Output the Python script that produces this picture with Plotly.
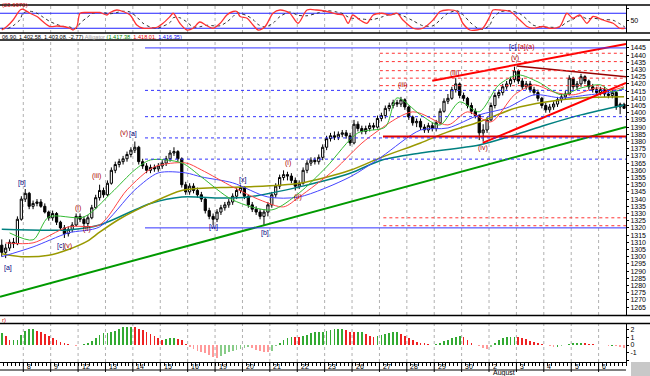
import plotly.graph_objects as go

# ---------------- data ----------------
day_labels = ["8","9","12","13","14","15","16","19","20","21","22","23","26","27","28","29","30","2","3","4","5","6"]

open_ = [1308,1303,1306,1310,1309,1326,
 1340,1344,1335,1337,1338,1335,1331,
 1327,1330,1324,1320,1316,1319,1322,
 1328,1326,1323,1327,1334,1341,1346,
 1343,1351,1360,1364,1366,1368,1371,
 1374,1376,1366,1363,1360,1362,1361,
 1363,1365,1368,1372,1373,1368,1350,
 1345,1349,1346,1343,1340,1332,1328,
 1326,1331,1334,1336,1338,1342,1346,
 1348,1342,1336,1333,1331,1328,1331,
 1336,1343,1349,1355,1357,1356,1353,
 1349,1351,1360,1365,1367,1366,1369,
 1376,1382,1384,1383,1385,1386,1384,
 1379,1392,1389,1387,1389,1391,1390,
 1396,1398,1403,1405,1407,1406,1409,
 1404,1397,1393,1394,1390,1388,1391,
 1389,1393,1401,1408,1410,1416,1420,
 1412,1410,1405,1401,1398,1386,1388,
 1395,1405,1412,1414,1418,1420,1423,
 1429,1422,1418,1420,1416,1414,1410,
 1405,1402,1404,1406,1409,1411,1413,
 1424,1418,1420,1425,1422,1418,1416,
 1414,1416,1413,1412,1414,1404,1405.85]
close = [1303,1306,1310,1309,1326,1340,
 1344,1335,1337,1338,1335,1331,1327,
 1330,1324,1320,1316,1319,1322,1328,
 1326,1323,1327,1334,1341,1346,1343,
 1351,1360,1364,1366,1368,1371,1374,
 1376,1366,1363,1360,1362,1361,1363,
 1365,1368,1372,1373,1368,1350,1345,
 1349,1346,1343,1340,1332,1328,1326,
 1331,1334,1336,1338,1342,1346,1348,
 1342,1336,1333,1331,1328,1331,1336,
 1343,1349,1355,1357,1356,1353,1349,
 1351,1360,1365,1367,1366,1369,1376,
 1382,1384,1383,1385,1386,1384,1379,
 1392,1389,1387,1389,1391,1390,1396,
 1398,1403,1405,1407,1406,1409,1404,
 1397,1393,1394,1390,1388,1391,1389,
 1393,1401,1408,1410,1416,1420,1412,
 1410,1405,1401,1398,1386,1388,1395,
 1405,1412,1414,1418,1420,1423,1429,
 1422,1418,1420,1416,1414,1410,1405,
 1402,1404,1406,1409,1411,1413,1424,
 1418,1420,1425,1422,1418,1416,1414,
 1416,1413,1412,1414,1404,1405.85,1403.08]
high = [1312,1309,1312,1313,1328,1342,
 1347,1345,1339,1340,1340,1337,1332,
 1332,1331,1325,1322,1321,1324,1330,
 1330,1328,1329,1336,1343,1350,1348,
 1353,1362,1366,1368,1370,1373,1376,
 1380,1377,1368,1365,1364,1364,1365,
 1367,1370,1374,1376,1374,1369,1352,
 1351,1351,1348,1345,1341,1334,1330,
 1333,1336,1338,1340,1344,1348,1350,
 1349,1343,1338,1335,1333,1333,1338,
 1345,1351,1357,1360,1359,1358,1355,
 1353,1362,1367,1369,1369,1371,1378,
 1384,1386,1387,1387,1388,1388,1386,
 1395,1394,1391,1391,1393,1393,1398,
 1400,1405,1407,1409,1409,1411,1410,
 1405,1398,1396,1396,1392,1393,1393,
 1395,1403,1410,1413,1418,1424,1421,
 1414,1411,1407,1403,1399,1392,1397,
 1407,1414,1416,1420,1422,1425,1432,
 1430,1424,1422,1422,1418,1416,1411,
 1407,1406,1408,1411,1413,1415,1426,
 1425,1422,1427,1426,1423,1420,1418,
 1418,1418,1415,1416,1415,1407,1406.90]
low = [1300,1299,1304,1306,1308,1325,
 1338,1333,1333,1335,1334,1330,1325,
 1325,1322,1318,1313,1314,1317,1321,
 1324,1320,1321,1326,1333,1339,1341,
 1342,1350,1358,1362,1364,1366,1369,
 1372,1364,1361,1358,1358,1359,1359,
 1361,1363,1366,1370,1366,1348,1343,
 1343,1344,1341,1338,1330,1326,1322,
 1324,1329,1332,1334,1336,1340,1344,
 1340,1334,1331,1329,1326,1322,1328,
 1334,1341,1347,1353,1353,1351,1346,
 1347,1350,1358,1363,1364,1364,1367,
 1374,1380,1381,1381,1383,1382,1377,
 1378,1387,1385,1385,1387,1388,1389,
 1394,1396,1401,1403,1404,1404,1402,
 1395,1391,1390,1388,1386,1386,1387,
 1387,1392,1400,1406,1409,1414,1410,
 1408,1403,1399,1396,1381,1380,1386,
 1394,1403,1410,1412,1416,1418,1421,
 1420,1416,1416,1414,1412,1408,1403,
 1400,1400,1402,1404,1407,1409,1412,
 1416,1416,1418,1420,1416,1414,1412,
 1412,1411,1410,1410,1402,1399,1402.58]

# moving-average style lines, read at sample bars
teal_bar = [0,17,25,38,46,56,63,76,89,97,107,122,131,139,148,159]
teal_val = [1319,1318.6,1322,1337,1341.5,1340.8,1341.5,1348.5,1358,1367,1372,1377.6,1384.6,1391.5,1398.5,1405.4]
olive_bar = [0,5,12,17,22,25,30,38,46,56,63,76,89,97,107,114,122,131,139,148,159]
olive_val = [1302,1300,1301,1305,1311,1317,1326,1337,1346,1348,1348.5,1351,1360,1369,1379,1386.7,1393.6,1403,1407.5,1410.3,1411]
blue_bar = [0,8,17,25,34,40,47,51,59,68,76,89,97,107,114,122,129,136,143,150,156,159]
blue_val = [1300,1306.8,1316.5,1320.7,1346.4,1358.2,1358.2,1355.4,1351.3,1341.5,1341.5,1355.4,1369.3,1388,1389.4,1398.5,1403.3,1412.4,1410.3,1412.4,1414.4,1416.35]
red_bar = [1,8,17,25,32,39,47,51,59,66,72,76,85,93,105,114,119,125,131,136,141,146,152,156,159]
red_val = [1309.6,1309.6,1320.7,1322.1,1346.4,1362.4,1365.1,1360.3,1348.5,1339.4,1334.6,1341.5,1360.3,1381.1,1400.6,1391.5,1400.6,1393.6,1412.4,1419.3,1414.4,1412.4,1417.2,1415.8,1418.01]
green_bar = [2,8,12,21,28,34,38,46,51,59,69,76,83,91,98,101,107,112,117,122,127,132,137,143,148,153,156,159]
green_val = [1316.5,1311.7,1327.6,1327.6,1344.3,1360.3,1367.2,1365.1,1355.4,1339.4,1332.5,1344.3,1362.4,1386,1390.1,1410.3,1398.5,1391.5,1407.5,1400.6,1419.3,1426.2,1421.4,1412.4,1417.2,1419.3,1414.4,1417.38]

# stochastic (%K red, %D dotted)
stoch_bar = [0,1.3,2.9,4.7,5.4,7.2,9,10.5,12.3,14.1,15.6,17.4,18.2,19.2,20,21.8,23.3,25.1,26.9,27.7,29.4,31,32.8,34.5,36.1,37.9,39.7,41.2,43,43.8,45.5,47.3,48.9,50.6,52.4,54,55.8,57.5,59.1,60.1,60.9,62.7,64.2,65.5,67.3,69.3,71.1,73.6,75.7,78,80.5,83.1,85.6,87.2,88.5,89.7,91.5,93.3,94.9,97.1,99.2,101,102.5,105.1,107.6,110.2,112,113.8,116.3,117.8,119.6,121.4,122.9,124.7,125.5,127.3,129.9,132.4,134.2,135.7,138.3,140.1,142.6,144.4,145.9,147.7,149.5,151.1,153.6,156.2,157.9,159.2]
stoch_k = [13,27,53,93,96,80,67,47,27,29,27,20,13,27,80,83,83,83,73,83,93,87,73,33,20,20,24,40,67,80,40,13,20,45,30,20,40,73,87,87,67,60,33,13,27,80,93,80,40,93,93,87,77,73,40,73,53,40,73,80,73,80,53,20,20,53,87,93,87,40,13,13,20,67,93,93,87,53,27,20,27,20,27,80,60,73,40,67,53,40,20,20]
stoch_d = [20,18,30,55,80,88,80,65,47,35,28,25,20,20,40,63,80,83,80,78,83,88,85,65,40,25,20,28,43,62,62,45,25,26,32,30,30,45,67,82,80,70,55,35,25,40,67,85,72,70,80,90,85,78,65,60,58,55,55,65,75,77,70,50,30,30,53,78,90,75,45,22,15,33,60,85,90,78,55,33,25,24,25,45,55,70,58,60,55,52,38,25]

# oscillator histogram
osc = [1.52,1.17,0.65,0.65,0.70,1.35,1.87,2.04,2.04,1.87,1.65,1.39,1.22,0.87,0.61,0.39,0.26,0.17,0.04,-0.09,
 -0.05,0.13,0.30,0.57,0.91,1.26,1.52,1.52,1.65,1.87,2.13,2.30,2.39,2.39,2.30,2.09,1.91,1.65,1.39,1.13,
 0.87,0.70,0.74,0.87,0.87,0.83,0.61,0.13,-0.22,-0.57,-0.78,-0.91,-1.04,-1.26,-1.52,-1.74,-1.43,-1.22,-0.96,-0.78,
 -0.65,-0.57,-0.39,-0.22,-0.35,-0.61,-0.74,-0.91,-0.96,-0.74,-0.13,0.26,0.65,0.91,1.09,1.04,1.0,1.17,1.30,1.52,
 1.65,1.74,1.74,1.87,1.96,2.04,2.09,2.09,1.91,1.74,1.65,1.65,1.65,1.43,1.22,1.09,1.17,1.35,1.48,1.61,
 1.70,1.74,1.48,1.22,0.96,0.70,0.43,0.30,0.22,0.17,0.04,0.09,0.30,0.48,0.70,0.91,1.04,1.17,1.0,0.61,
 0.22,0.04,-0.17,-0.43,-0.57,-0.22,0.26,0.65,0.91,1.04,1.09,1.09,1.04,0.91,0.78,0.57,0.39,0.26,0.17,0.04,
 -0.13,-0.22,-0.22,-0.09,0.0,0.13,0.30,0.30,0.30,0.22,0.17,0.09,0.04,-0.04,-0.04,-0.09,-0.09,-0.13,-0.22,-0.43]

# trend lines: (bar0, price0, bar1, price1)
green_trend = (-0.45, 1272.1, 159.5, 1390.1)
red_upper = (110, 1422.2, 159.5, 1447.8)
maroon_line = (131.6, 1432.5, 159.5, 1424.9)
red_lower = (122.9, 1379.0, 159.5, 1420.7)
red_level = 1383.5
fib_blue = [1445, 1415.5, 1397.25, 1382.5, 1367.75, 1320]
red_dotted = [1441.3, 1435.5, 1429.2, 1424.0, 1418.8, 1327.0, 1321.5]

wave_labels = [
 ("[a]", "#000080", 1.6, 1292.2), ("[b]", "#000080", 5.2, 1351.3), ("[c]", "#000080", 14.9, 1307.5),
 ("(v)", "#aa0000", 16.9, 1307.5), ("(i)", "#aa0000", 19.5, 1333.9), ("(ii)", "#aa0000", 21.8, 1319.3),
 ("(iii)", "#aa0000", 24.3, 1356.1), ("(v)", "#aa0000", 31.3, 1386.0), ("[a]", "#000080", 33.6, 1385.5),
 ("[w]", "#000080", 54.0, 1320.7), ("[x]", "#000080", 61.4, 1353.3), ("[b]", "#000080", 67.3, 1316.5),
 ("(i)", "#aa0000", 73.1, 1365.1), ("(ii)", "#aa0000", 75.7, 1341.5), ("(iii)", "#aa0000", 102.5, 1419.3),
 ("(iii)", "#aa0000", 115.8, 1427.6), ("(iv)", "#aa0000", 122.9, 1375.5), ("(v)", "#aa0000", 131.1, 1438.0),
 ("[c]", "#000080", 130.4, 1445.5), ("[a]", "#cc0000", 133.0, 1445.5), ("(a)", "#cc0000", 135.2, 1445.5),
]

# ---------------- figure ----------------
H_PLOT = 362.0
def py(px):
    return (H_PLOT - px) / H_PLOT

bars = list(range(len(close)))
FONT = "Liberation Sans"
fig = go.Figure()

fig.add_trace(go.Candlestick(x=bars, open=open_, high=high, low=low, close=close,
    increasing=dict(line=dict(color="black", width=1), fillcolor="white"),
    decreasing=dict(line=dict(color="black", width=1), fillcolor="black"),
    whiskerwidth=0, xaxis="x", yaxis="y", showlegend=False, hoverinfo="skip"))

def line_tr(xs, ys, color, width, dash="solid", yaxis="y", shape="spline"):
    fig.add_trace(go.Scatter(x=xs, y=ys, mode="lines", xaxis="x", yaxis=yaxis,
        line=dict(color=color, width=width, dash=dash, shape=shape, smoothing=0.8),
        showlegend=False, hoverinfo="skip"))

line_tr(teal_bar, teal_val, "#008080", 1.5)
line_tr(olive_bar, olive_val, "#999900", 1.5)
line_tr(blue_bar, blue_val, "#4444ff", 1)
line_tr(red_bar, red_val, "#ff4444", 1)
line_tr(green_bar, green_val, "#33bb33", 1)

for (x0, y0, x1, y1), col, w in [(green_trend, "#009900", 2), (red_upper, "#ff0000", 2),
                                 (maroon_line, "#990000", 1.5), (red_lower, "#ff0000", 2)]:
    line_tr([x0, x1], [y0, y1], col, w, shape="linear")

line_tr([97.4, 159.5], [red_level, red_level], "#dd0000", 2, shape="linear")
for i, lv in enumerate(fib_blue):
    solid = i in (0, len(fib_blue) - 1)
    line_tr([36.6, 159.5], [lv, lv], "#3333ff", 1, "solid" if solid else "dot", shape="linear")
for i, lv in enumerate(red_dotted):
    start = 96.6 if lv > 1400 else 97.5
    line_tr([start, 159.5], [lv, lv], "#ff3333", 1, "dot", shape="linear")

line_tr([-0.45, 160], [80, 80], "#2222ff", 1, yaxis="y2", shape="linear")
line_tr([-0.45, 160], [20, 20], "#2222ff", 1, yaxis="y2", shape="linear")
line_tr(stoch_bar, stoch_d, "#333333", 1, "dot", yaxis="y2")
line_tr(stoch_bar, stoch_k, "#ff3333", 1.3, yaxis="y2")

cols = []
for i, v in enumerate(osc):
    prev = osc[i - 1] if i > 0 else v
    up = v >= prev
    strong = abs(v) >= abs(prev)
    if up:
        cols.append("#33aa33" if strong else "#88cc88")
    else:
        cols.append("#ee2222" if not strong else "#ff9999")
fig.add_trace(go.Bar(x=bars, y=osc, marker=dict(color=cols, line=dict(width=0)), width=0.45,
    xaxis="x", yaxis="y3", showlegend=False, hoverinfo="skip"))

# ---------------- layout ----------------
shapes = []
day_bounds = [5.5 + 7 * k for k in range(len(day_labels))]
for b in day_bounds:
    for (p0, p1) in [(5, 33), (40, 315), (324, 362)]:
        shapes.append(dict(type="line", xref="x", yref="paper", x0=b, x1=b, y0=py(p1), y1=py(p0),
                           line=dict(color="#b0b0b0", width=1, dash="dot"), layer="below"))
    shapes.append(dict(type="line", xref="x", yref="paper", x0=b, x1=b, y0=py(372), y1=py(362),
                       line=dict(color="black", width=1)))
for p in [5, 33, 40, 315.5, 323.5]:
    shapes.append(dict(type="line", xref="paper", yref="paper", x0=0, x1=1.04, y0=py(p), y1=py(p),
                       line=dict(color="black", width=1.5)))
shapes.append(dict(type="line", xref="paper", yref="paper", x0=0, x1=1, y0=py(370), y1=py(370),
                   line=dict(color="black", width=1)))
shapes.append(dict(type="rect", xref="paper", yref="paper", x0=1.008, x1=1.04, y0=py(376), y1=py(362),
                   line=dict(width=0), fillcolor="#c8c8c8"))

ann = []
for lab, b in zip(day_labels, day_bounds):
    ann.append(dict(x=b + 0.4, y=py(366), xref="x", yref="paper", text=lab, showarrow=False,
                    xanchor="left", yanchor="middle", font=dict(size=7, color="black", family=FONT)))
ann.append(dict(x=day_bounds[17] + 0.4, y=py(373), xref="x", yref="paper", text="August", showarrow=False,
                xanchor="left", yanchor="middle", font=dict(size=7, color="black", family=FONT)))
for txt, col, b, p in wave_labels:
    ann.append(dict(x=b, y=p, xref="x", yref="y", text=txt, showarrow=False,
                    font=dict(size=7, color=col, family=FONT)))
ann.append(dict(x=0, y=py(0.5), xref="paper", yref="paper", xanchor="left", yanchor="top",
                text="(23.6970)", showarrow=False, font=dict(size=6, color="#cc0000", family=FONT)))
ann.append(dict(x=0, y=py(36.5), xref="paper", yref="paper", xanchor="left", yanchor="middle",
                text="06.90, 1,402.58, 1,403.08, -2.77) <span style='color:#999999'>Alligator</span> "
                     "<span style='color:#008800'>(1,417.38,</span> <span style='color:#ee0000'>1,418.01,</span> "
                     "<span style='color:#0000ee'>1,416.35)</span>",
                showarrow=False, font=dict(size=5.6, color="black", family=FONT)))
ann.append(dict(x=0, y=py(319.5), xref="paper", yref="paper", xanchor="left", yanchor="middle",
                text="r)", showarrow=False, font=dict(size=6, color="#cc0000", family=FONT)))

axis_common = dict(side="right", anchor="x", ticks="outside", ticklen=2, tickcolor="black",
                   showgrid=False, zeroline=False, showline=True, linecolor="black", linewidth=1,
                   tickfont=dict(size=7, family=FONT), ticklabeloverflow="allow")

fig.update_layout(
    width=650, height=376, margin=dict(l=0, r=24, t=0, b=14),
    paper_bgcolor="white", plot_bgcolor="white", showlegend=False,
    font=dict(family=FONT, size=7, color="black"),
    shapes=shapes, annotations=ann, bargap=0, boxgap=0.2,
    xaxis=dict(range=[-0.45, 159.5], domain=[0, 1], anchor="y3", showgrid=False, zeroline=False,
               showticklabels=False, ticks="outside", tickvals=[b + 0.5 for b in range(-1, 160)],
               ticklen=3, tickcolor="black", showline=True, linecolor="black", linewidth=1,
               rangeslider=dict(visible=False), fixedrange=True),
    yaxis=dict(domain=[py(315), py(40)], range=[1259.5, 1450.5],
               tickvals=list(range(1265, 1446, 5)), **axis_common),
    yaxis2=dict(domain=[py(33), py(5)], range=[1, 113],
                tickvals=[0, 50, 100], ticktext=["", "50", ""], **axis_common),
    yaxis3=dict(domain=[0, py(324)], range=[-2.2, 2.73],
                tickvals=[-2, -1, 0, 1, 2], ticktext=["", "-1", "0", "1", "2"], **axis_common),
)

fig.write_html("out.html", config={"displayModeBar": False, "staticPlot": True},
               post_script="document.body.style.margin='0';document.body.style.overflow='hidden';")
